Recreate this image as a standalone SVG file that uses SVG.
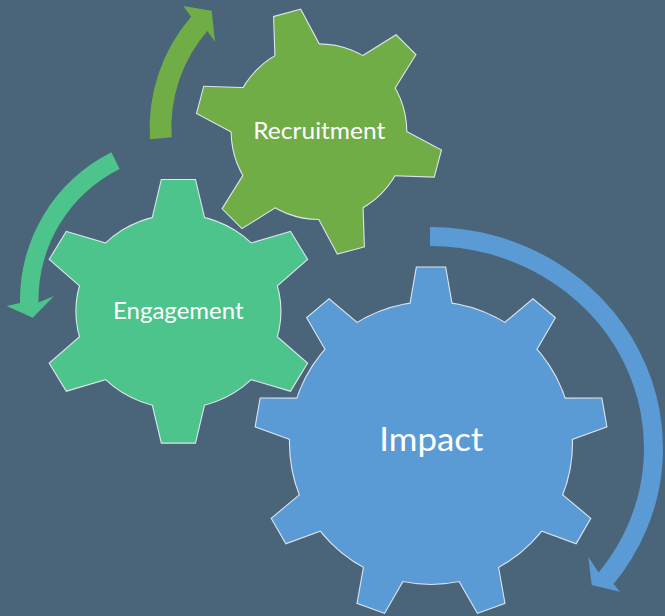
<svg xmlns="http://www.w3.org/2000/svg" xmlns:xlink="http://www.w3.org/1999/xlink" width="665" height="616" viewBox="0 0 665 616">
<style>
 .bg{fill:#4a6479}
 .edge{fill:none;stroke:#dde5ee;stroke-width:2.2}
 .lbl{font-family:Lato,"Open Sans","Liberation Sans",sans-serif;fill:#ffffff;text-anchor:middle}
 polygon,circle{vector-effect:non-scaling-stroke}
</style>
<defs>
 <polygon id="tooth-imp" points="-23,-125 -14.2,-175.5 14.2,-175.5 23,-125"/>
 <polygon id="tooth-eng" points="-27.3,-80 -15.75,-131.3 15.75,-131.3 27.3,-80"/>
 <polygon id="tooth-rec" points="-25.8,-70 -13.6,-122.5 13.6,-122.5 25.8,-70"/>
 <g id="shape-imp" transform="translate(431,443)">
  <circle r="141"/>
  <use xlink:href="#tooth-imp"/>
  <use xlink:href="#tooth-imp" transform="rotate(40)"/>
  <use xlink:href="#tooth-imp" transform="rotate(80)"/>
  <use xlink:href="#tooth-imp" transform="rotate(120)"/>
  <use xlink:href="#tooth-imp" transform="rotate(160)"/>
  <use xlink:href="#tooth-imp" transform="rotate(200)"/>
  <use xlink:href="#tooth-imp" transform="rotate(240)"/>
  <use xlink:href="#tooth-imp" transform="rotate(280)"/>
  <use xlink:href="#tooth-imp" transform="rotate(320)"/>
 </g>
 <g id="shape-eng" transform="translate(178.4,311.3) scale(1.057,1)">
  <circle r="96.5"/>
  <use xlink:href="#tooth-eng"/>
  <use xlink:href="#tooth-eng" transform="rotate(60)"/>
  <use xlink:href="#tooth-eng" transform="rotate(120)"/>
  <use xlink:href="#tooth-eng" transform="rotate(180)"/>
  <use xlink:href="#tooth-eng" transform="rotate(240)"/>
  <use xlink:href="#tooth-eng" transform="rotate(300)"/>
 </g>
 <g id="shape-rec" transform="translate(319,131.7)">
  <circle r="87.3"/>
  <use xlink:href="#tooth-rec" transform="rotate(45)"/>
  <use xlink:href="#tooth-rec" transform="rotate(105)"/>
  <use xlink:href="#tooth-rec" transform="rotate(165)"/>
  <use xlink:href="#tooth-rec" transform="rotate(225)"/>
  <use xlink:href="#tooth-rec" transform="rotate(285)"/>
  <use xlink:href="#tooth-rec" transform="rotate(345)"/>
 </g>
</defs>
<rect class="bg" x="0" y="0" width="665" height="616"/>

<g id="recruitment">
 <use xlink:href="#shape-rec" class="edge"/>
 <use xlink:href="#shape-rec" fill="#70ad47"/>
 <text class="lbl" x="319.3" y="139.3" font-size="24" textLength="132" lengthAdjust="spacingAndGlyphs">Recruitment</text>
</g>

<g id="engagement">
 <use xlink:href="#shape-eng" class="edge"/>
 <use xlink:href="#shape-eng" fill="#4dc48c"/>
 <text class="lbl" x="178.3" y="319.3" font-size="24" textLength="130.5" lengthAdjust="spacingAndGlyphs">Engagement</text>
</g>

<g id="impact">
 <use xlink:href="#shape-imp" class="edge"/>
 <use xlink:href="#shape-imp" fill="#5b9bd5"/>
 <text class="lbl" x="431.3" y="450.7" font-size="33.5" textLength="104" lengthAdjust="spacingAndGlyphs">Impact</text>
</g>

<g id="connectors">
 <path id="arrow-recruitment" fill="#70ad47" d="M 150,139.3 A 169.5 169.5 0 0 1 191.1,16.8 L 183.3,6 L 211.7,10.7 L 215,41.7 L 207.3,30.9 A 148 148 0 0 0 171.7,137.3 Z"/>
 <path id="arrow-engagement" fill="#4dc48c" d="M 111.4,152.3 A 165 165 0 0 0 20,302.9 L 6.7,306 L 32.7,317.7 L 54,296 L 38.5,302.6 A 146.5 146.5 0 0 1 119.6,168.9 Z"/>
 <path id="arrow-impact" fill="#5b9bd5" d="M 430,227 A 233 221 0 0 1 613.6,584.1 L 620,591.7 L 591.7,585 L 588.3,556.7 L 598.6,572.4 A 214 202 0 0 0 430,246 Z"/>
</g>
</svg>
